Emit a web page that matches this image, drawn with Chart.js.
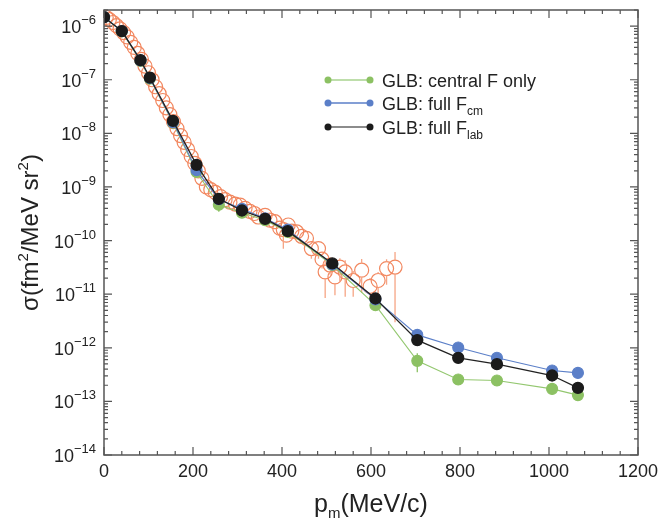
<!DOCTYPE html>
<html>
<head>
<meta charset="utf-8">
<script src="https://cdn.jsdelivr.net/npm/chart.js@4.4.1/dist/chart.umd.min.js"></script>
<style>
  body { margin: 0; background: #fff; }
</style>
</head>
<body>
<canvas id="sigmaChart" width="660" height="520"></canvas>
<script>
// Theory curves (GLB), missing momentum in MeV/c
const momenta = [0, 40, 82, 103, 155, 208, 258, 310, 362, 413, 513, 610, 704, 796, 883, 1007, 1065];
const fullLab = [1.47e-6, 8.1e-7, 2.32e-7, 1.10e-7, 1.71e-8, 2.58e-9, 6.0e-10, 3.64e-10, 2.54e-10, 1.50e-10, 3.74e-11, 8.3e-12, 1.39e-12, 6.5e-13, 4.94e-13, 3.04e-13, 1.79e-13];
const fullCm = [1.47e-6, 8.1e-7, 2.30e-7, 1.08e-7, 1.62e-8, 2.06e-9, 5.9e-10, 3.9e-10, 2.6e-10, 1.6e-10, 3.6e-11, 8.0e-12, 1.74e-12, 1.01e-12, 6.5e-13, 3.77e-13, 3.40e-13];
const centralF = [1.47e-6, 8.0e-7, 2.25e-7, 1.05e-7, 1.58e-8, 1.9e-9, 4.64e-10, 3.3e-10, 2.4e-10, 1.45e-10, 3.5e-11, 6.24e-12, 5.7e-13, 2.56e-13, 2.45e-13, 1.71e-13, 1.31e-13];
const fullLabErr = [0, 0, 0, 0, 0, 3e-10, 6e-11, 0, 0, 2e-11, 0, 1e-12, 2.5e-13, 0, 0, 0, 0];
const centralFErr = [0, 0, 0, 0, 0, 4e-10, 1.2e-10, 0, 0, 0, 0, 0, 2.2e-13, 4e-14, 0, 0, 0];

// Experimental points (open circles)
const expP = [5, 12, 20, 28, 36, 44, 52, 60, 68, 76,
  84, 92, 100, 108, 116, 124, 132, 140, 148, 156,
  164, 172, 180, 188, 196, 204, 212, 220, 230, 240,
  250, 262, 272, 283, 295, 306, 317, 328, 338, 347,
  362, 373, 384, 395, 403, 410, 414, 422, 433, 444,
  455, 466, 482, 490, 497, 508, 519, 530, 542, 560,
  579, 598, 616, 635, 654];
const expVal = [1.45e-6, 1.32e-6, 1.17e-6, 1.02e-6, 8.9e-7, 7.6e-7, 6.3e-7, 5.0e-7, 4.0e-7, 3.1e-7,
  2.4e-7, 1.8e-7, 1.35e-7, 1.0e-7, 7.4e-8, 5.5e-8, 4.1e-8, 3.0e-8, 2.24e-8, 1.66e-8,
  1.23e-8, 9.1e-9, 6.8e-9, 5.0e-9, 3.7e-9, 2.75e-9, 2.0e-9, 1.45e-9, 1.0e-9, 8.9e-10,
  7.9e-10, 6.6e-10, 5.8e-10, 5.2e-10, 4.8e-10, 4.6e-10, 4.0e-10, 3.5e-10, 3.2e-10, 2.75e-10,
  2.95e-10, 2.4e-10, 2.25e-10, 1.7e-10, 1.6e-10, 1.26e-10, 1.95e-10, 1.5e-10, 1.45e-10, 1.2e-10,
  1.1e-10, 7.1e-11, 7.1e-11, 4.5e-11, 2.6e-11, 3.5e-11, 2.1e-11, 3.2e-11, 2.6e-11, 1.8e-11,
  2.8e-11, 1.4e-11, 1.8e-11, 3.0e-11, 3.2e-11];
const expErr = [0, 0, 0, 0, 0, 0, 0, 0, 0, 0,
  0, 0, 0, 0, 0, 0, 0, 0, 0, 0,
  0, 0, 0, 0, 0, 0, 0, 0, 1.5e-10, 1.2e-10,
  1.2e-10, 1.0e-10, 8e-11, 6e-11, 6e-11, 6e-11, 5e-11, 5e-11, 5e-11, 4e-11,
  4e-11, 4e-11, 3e-11, 4e-11, 9e-11, 3e-11, 5e-11, 3e-11, 3e-11, 2.5e-11,
  2.5e-11, 2.5e-11, 2.5e-11, 1.5e-11, 1.75e-11, 1.2e-11, 1.15e-11, 1.5e-11, 1.7e-11, 0.9e-11,
  1.75e-11, 0.6e-11, 0.8e-11, 1.5e-11, 2.9e-11];

// Axis ticks
const xTickLabels = [0, 200, 400, 600, 800, 1000, 1200];
const yDecades = [-14, -13, -12, -11, -10, -9, -8, -7, -6];

const FONT = '"Liberation Sans", Arial, Helvetica, sans-serif';

const toPoints = (xs, ys) => xs.map((x, i) => ({ x: x, y: ys[i] }));

// draw text pieces with super/subscripts: [text, size, dy]
function drawPieces(ctx, pieces, x, y, align) {
  let total = 0;
  pieces.forEach(p => { ctx.font = p[1] + 'px ' + FONT; total += ctx.measureText(p[0]).width; });
  let cx = align === 'center' ? x - total / 2 : (align === 'right' ? x - total : x);
  ctx.textAlign = 'left';
  ctx.textBaseline = 'alphabetic';
  pieces.forEach(p => {
    ctx.font = p[1] + 'px ' + FONT;
    ctx.fillText(p[0], cx, y + p[2]);
    cx += ctx.measureText(p[0]).width;
  });
}

const errorBars = {
  id: 'errorBars',
  afterDatasetDraw(chart, args) {
    const ds = chart.data.datasets[args.index];
    if (!ds.errors) return;
    const { ctx, chartArea } = chart;
    const yScale = chart.scales.y;
    const gap = ds.errorGap || 0;
    ctx.save();
    ctx.strokeStyle = ds.errorColor;
    ctx.lineWidth = 1.3;
    args.meta.data.forEach((pt, i) => {
      const e = ds.errors[i];
      if (!e) return;
      const v = ds.data[i].y;
      const hi = yScale.getPixelForValue(v + e);
      const lo = v - e > 0 ? Math.min(yScale.getPixelForValue(v - e), chartArea.bottom) : chartArea.bottom;
      ctx.beginPath();
      if (hi < pt.y - gap) { ctx.moveTo(pt.x, hi); ctx.lineTo(pt.x, pt.y - gap); }
      if (lo > pt.y + gap) { ctx.moveTo(pt.x, pt.y + gap); ctx.lineTo(pt.x, lo); }
      ctx.stroke();
    });
    ctx.restore();
  }
};

const frameAndLabels = {
  id: 'frameAndLabels',
  afterDraw(chart) {
    const { ctx, chartArea: { left, right, top, bottom }, scales: { x, y } } = chart;
    ctx.save();
    ctx.strokeStyle = '#555';
    ctx.lineWidth = 1.5;
    ctx.strokeRect(left, top, right - left, bottom - top);

    // x ticks (inward, bottom and top)
    ctx.lineWidth = 1.2;
    ctx.beginPath();
    for (let v = 0; v <= 1200; v += 40) {
      const px = x.getPixelForValue(v);
      const len = v % 200 === 0 ? 8 : 4;
      ctx.moveTo(px, bottom); ctx.lineTo(px, bottom - len);
      ctx.moveTo(px, top); ctx.lineTo(px, top + len);
    }
    // y ticks (inward, left and right)
    yDecades.forEach(e => {
      for (let m = 1; m <= 9; m++) {
        const v = m * Math.pow(10, e);
        if (v > y.max || v < y.min) continue;
        const py = y.getPixelForValue(v);
        const len = m === 1 ? 8 : 4;
        ctx.moveTo(left, py); ctx.lineTo(left + len, py);
        ctx.moveTo(right, py); ctx.lineTo(right - len, py);
      }
    });
    ctx.stroke();

    // tick labels
    ctx.fillStyle = '#222';
    ctx.font = '18px ' + FONT;
    ctx.textAlign = 'center';
    ctx.textBaseline = 'top';
    xTickLabels.forEach(v => ctx.fillText(String(v), x.getPixelForValue(v), bottom + 8));
    yDecades.forEach(e => {
      const py = y.getPixelForValue(Math.pow(10, e));
      drawPieces(ctx, [['10', 18, 0], ['\u2212' + Math.abs(e), 13, -9]], left - 8, py + 7, 'right');
    });

    // axis titles
    drawPieces(ctx, [['p', 25, 0], ['m', 15, 6], ['(MeV/c)', 25, 0]], (left + right) / 2, 512, 'center');
    ctx.save();
    ctx.translate(38, (top + bottom) / 2);
    ctx.rotate(-Math.PI / 2);
    drawPieces(ctx, [['\u03c3(fm', 24, 0], ['2', 15, -10], ['/MeV sr', 24, 0], ['2', 15, -10], [')', 24, 0]], 0, 0, 'center');
    ctx.restore();

    // legend
    const rows = [
      { y: 80, line: '#a9d38f', dot: '#8cc163', text: [['GLB: central F only', 18, 0]] },
      { y: 103, line: '#5b7fc8', dot: '#5b7fc8', text: [['GLB: full F', 18, 0], ['cm', 12, 5]] },
      { y: 127, line: '#666', dot: '#1b1b1b', text: [['GLB: full F', 18, 0], ['lab', 12, 5]] }
    ];
    rows.forEach(r => {
      ctx.strokeStyle = r.line;
      ctx.lineWidth = 1.5;
      ctx.beginPath(); ctx.moveTo(328, r.y); ctx.lineTo(370, r.y); ctx.stroke();
      ctx.fillStyle = r.dot;
      [328, 370].forEach(cx => { ctx.beginPath(); ctx.arc(cx, r.y, 3.5, 0, Math.PI * 2); ctx.fill(); });
      ctx.fillStyle = '#222';
      drawPieces(ctx, r.text, 382, r.y + 6.5, 'left');
    });
    ctx.restore();
  }
};

const ctxSigma = document.getElementById('sigmaChart').getContext('2d');
new Chart(ctxSigma, {
  type: 'line',
  data: {
    datasets: [
      {
        label: 'GLB: full F_lab',
        data: toPoints(momenta, fullLab),
        errors: fullLabErr, errorColor: '#1b1b1b', errorGap: 0,
        borderColor: '#222', borderWidth: 1.3,
        pointBackgroundColor: '#1b1b1b', pointBorderColor: '#1b1b1b', pointRadius: 5.5,
        order: 0
      },
      {
        label: 'GLB: full F_cm',
        data: toPoints(momenta, fullCm),
        borderColor: '#5b7fc8', borderWidth: 1.1,
        pointBackgroundColor: '#5b7fc8', pointBorderColor: '#5b7fc8', pointRadius: 5.5,
        order: 1
      },
      {
        label: 'GLB: central F only',
        data: toPoints(momenta, centralF),
        errors: centralFErr, errorColor: '#8cc163', errorGap: 0,
        borderColor: '#93c76f', borderWidth: 1.1,
        pointBackgroundColor: '#8cc163', pointBorderColor: '#8cc163', pointRadius: 5.5,
        order: 2
      },
      {
        label: 'data',
        data: toPoints(expP, expVal),
        errors: expErr, errorColor: '#f6a585', errorGap: 7,
        showLine: false,
        pointRadius: 7, pointBorderWidth: 1.2,
        pointBorderColor: '#f2875f', pointBackgroundColor: 'rgba(0,0,0,0)',
        order: 3
      }
    ]
  },
  options: {
    responsive: false,
    animation: false,
    devicePixelRatio: 1,
    layout: { padding: { left: 0, right: 22, top: 10, bottom: 0 } },
    elements: { line: { tension: 0 } },
    plugins: { legend: { display: false }, tooltip: { enabled: false } },
    scales: {
      x: {
        type: 'linear', min: 0, max: 1200,
        ticks: { display: false }, grid: { display: false }, border: { display: false },
        afterFit: s => { s.height = 65; }
      },
      y: {
        type: 'logarithmic', min: 1e-14, max: 2e-6,
        ticks: { display: false }, grid: { display: false }, border: { display: false },
        afterFit: s => { s.width = 104; }
      }
    }
  },
  plugins: [errorBars, frameAndLabels]
});
</script>
</body>
</html>
